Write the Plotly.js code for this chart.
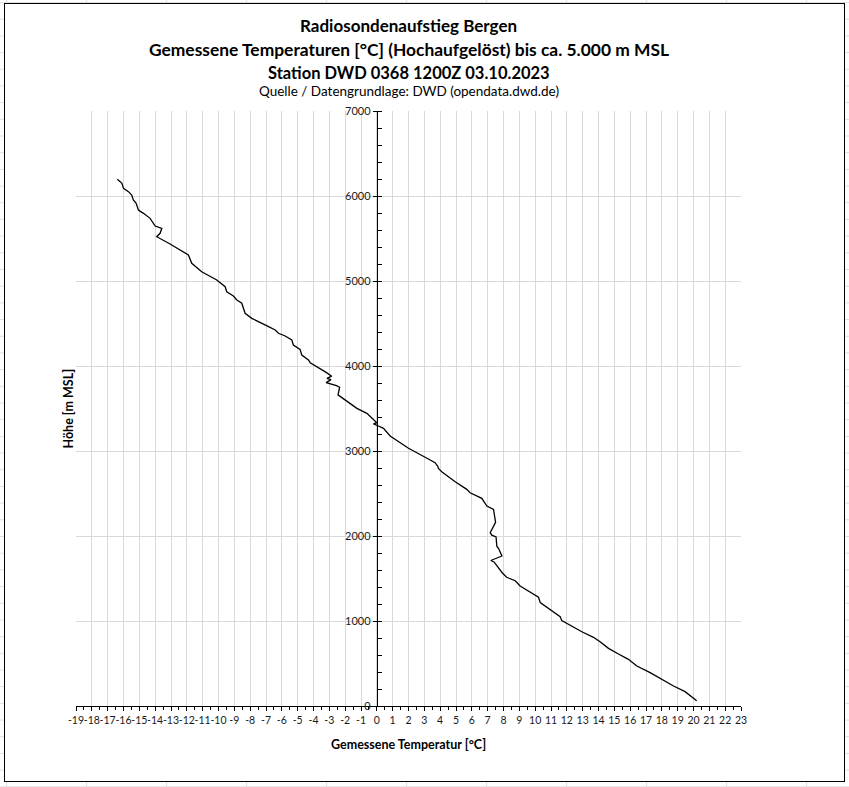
<!DOCTYPE html>
<html>
<head>
<meta charset="utf-8">
<script src="https://cdn.plot.ly/plotly-3.0.1.min.js"></script>
<style>
  html, body {
    margin: 0;
    padding: 0;
    width: 849px;
    height: 787px;
    overflow: hidden;
    background-color: #ffffff;
    /* Excel cell grid behind the chart object */
    background-image:
      linear-gradient(to right, #dedede 1px, transparent 1px),
      linear-gradient(to bottom, #dedede 1px, transparent 1px);
    background-size: 80px 16.7px;
    background-position: 6px 2px;
  }
  #chart {
    position: absolute;
    left: 4px;
    top: 3px;
    width: 839px;
    height: 777px;
    border: 1px solid #000000;
    background: #ffffff;
  }
</style>
</head>
<body>
<div id="chart"></div>
<script>
// Radiosonde profile Bergen, 03.10.2023 12Z
const heights = [
  62, 110, 169, 235, 314, 392, 471, 549, 612, 678,
  757, 808, 874, 953, 1004, 1051, 1129, 1216, 1279, 1326,
  1412, 1474, 1514, 1565, 1640, 1695, 1712, 1765, 1850, 1880,
  1990, 2010, 2040, 2140, 2160, 2314, 2353, 2443, 2509, 2549,
  2639, 2756, 2796, 2820, 2862, 2926, 3032, 3176, 3267, 3294,
  3318, 3333, 3385, 3443, 3502, 3600, 3660, 3750, 3768, 3805,
  3840, 3855, 3880, 3925, 4039, 4071, 4129, 4196, 4247, 4306,
  4353, 4385, 4424, 4470, 4561, 4620, 4738, 4776, 4824, 4874,
  4933, 5012, 5109, 5208, 5306, 5435, 5521, 5561, 5620, 5647,
  5737, 5796, 5835, 5914, 5953, 6012, 6051, 6090, 6149, 6196
];
const temperatures = [
  20.2, 19.9, 19.47, 18.74, 18.0, 17.26, 16.42, 15.89, 15.26, 14.63,
  14.1, 13.68, 12.95, 12.21, 11.68, 11.58, 10.95, 10.32, 10.21, 9.79,
  9.05, 8.74, 8.2, 7.93, 7.64, 7.4, 7.2, 7.9, 7.7, 7.58,
  7.53, 7.26, 7.16, 7.41, 7.5, 7.37, 6.95, 6.63, 5.89, 5.68,
  4.95, 4.1, 3.89, 3.85, 3.68, 3.05, 2.0, 0.84, 0.42, 0.1,
  -0.21, 0.0, -0.32, -0.63, -1.26, -2.0, -2.45, -2.35, -2.55, -3.2,
  -2.9, -3.15, -2.85, -3.2, -4.21, -4.32, -4.74, -4.85, -5.27, -5.37,
  -5.79, -6.21, -6.42, -6.9, -7.9, -8.32, -8.53, -8.84, -9.06, -9.48,
  -9.58, -10.11, -11.06, -11.69, -11.9, -13.06, -13.9, -13.69, -13.58, -14.0,
  -14.32, -14.74, -15.06, -15.2, -15.38, -15.48, -15.69, -16.0, -16.1, -16.39
];

// x tick positions and labels (Excel style hyphen minus)
const xTickVals = [
  -19, -18, -17, -16, -15, -14, -13, -12, -11, -10, -9, -8, -7, -6, -5, -4, -3, -2, -1,
  0, 1, 2, 3, 4, 5, 6, 7, 8, 9, 10, 11, 12, 13, 14, 15, 16, 17, 18, 19, 20, 21, 22, 23
];
const xTickText = [
  '-19', '-18', '-17', '-16', '-15', '-14', '-13', '-12', '-11', '-10', '-9', '-8', '-7', '-6', '-5', '-4', '-3', '-2', '-1',
  '0', '1', '2', '3', '4', '5', '6', '7', '8', '9', '10', '11', '12', '13', '14', '15', '16', '17', '18', '19', '20', '21', '22', '23'
];

const titleLines = [
  'Radiosondenaufstieg Bergen',
  'Gemessene Temperaturen [°C] (Hochaufgelöst) bis ca. 5.000 m MSL',
  'Station DWD 0368 1200Z 03.10.2023'
];
const sourceText = 'Quelle / Datengrundlage: DWD (opendata.dwd.de)';
const xTitle = 'Gemessene Temperatur [°C]';
const yTitle = 'Höhe [m MSL]';

const xRange = [-19, 23];
const yRange = [0, 7000];

const CHART_COLORS = {
  line: '#000000',
  grid: '#d9d9d9',
  axis: '#000000',
  text: '#000000',
  tick: '#1a1a1a',
};

const FONT = 'Lato, "Open Sans", sans-serif';

function createProfileTrace() {
  return {
    x: temperatures,
    y: heights,
    type: 'scatter',
    mode: 'lines',
    line: { color: CHART_COLORS.line, width: 1.3 },
    hoverinfo: 'x+y',
    showlegend: false,
  };
}

function textAnnotation(text, x, y, size, bold, extra) {
  return Object.assign({
    text: bold ? '<b>' + text + '</b>' : text,
    xref: 'paper',
    yref: 'paper',
    x: x,
    y: y,
    xanchor: 'center',
    yanchor: 'middle',
    showarrow: false,
    font: { family: FONT, size: size, color: CHART_COLORS.text },
  }, extra || {});
}

const annotations = [
  textAnnotation(titleLines[0], 0.5, 1.1430, 17, true),
  textAnnotation(titleLines[1], 0.5, 1.1030, 17.4, true),
  textAnnotation(titleLines[2], 0.5, 1.0640, 16.5, true),
  textAnnotation(sourceText, 0.5, 1.0340, 13.5, false),
  textAnnotation(xTitle, 0.5, -0.0655, 12.5, true),
  textAnnotation(yTitle, -0.012, 0.5, 12.5, true, { textangle: -90 }),
];

const layout = {
  width: 839,
  height: 777,
  margin: { l: 71, r: 103, t: 107, b: 75, pad: 0 },
  paper_bgcolor: '#ffffff',
  plot_bgcolor: '#ffffff',
  showlegend: false,
  font: { family: FONT, size: 11, color: CHART_COLORS.tick },
  xaxis: {
    range: xRange,
    tickmode: 'array',
    tickvals: xTickVals,
    ticktext: xTickText,
    tickangle: 0,
    showgrid: true,
    gridcolor: CHART_COLORS.grid,
    gridwidth: 1,
    zeroline: false,
    showline: true,
    linecolor: CHART_COLORS.axis,
    linewidth: 1,
    ticks: 'outside',
    ticklen: 4,
    tickcolor: CHART_COLORS.axis,
    tickfont: { family: FONT, size: 10.5, color: CHART_COLORS.tick },
    minor: { dtick: 0.5, tick0: 0, ticks: 'outside', ticklen: 3, tickcolor: CHART_COLORS.axis, showgrid: false },
    automargin: false,
    fixedrange: true,
  },
  // second copy of the x axis only for the upper half of the crossing ticks
  xaxis2: {
    range: xRange,
    overlaying: 'x',
    anchor: 'y',
    side: 'bottom',
    dtick: 0.5,
    tick0: 0,
    ticks: 'inside',
    ticklen: 3,
    tickcolor: CHART_COLORS.axis,
    showticklabels: false,
    showgrid: false,
    zeroline: false,
    showline: false,
    automargin: false,
  },
  yaxis: {
    range: yRange,
    dtick: 1000,
    anchor: 'free',
    position: (0 - xRange[0]) / (xRange[1] - xRange[0]),
    side: 'left',
    showgrid: true,
    gridcolor: CHART_COLORS.grid,
    gridwidth: 1,
    zeroline: false,
    showline: true,
    linecolor: CHART_COLORS.axis,
    linewidth: 1,
    ticks: 'outside',
    ticklen: 4,
    tickcolor: CHART_COLORS.axis,
    tickfont: { family: FONT, size: 11, color: CHART_COLORS.tick },
    minor: { dtick: 200, ticks: 'inside', ticklen: 4, tickcolor: CHART_COLORS.axis, showgrid: false },
    automargin: false,
    fixedrange: true,
  },
  annotations: annotations,
};

Plotly.newPlot('chart', [createProfileTrace()], layout, { displayModeBar: false, staticPlot: true });
</script>
</body>
</html>
